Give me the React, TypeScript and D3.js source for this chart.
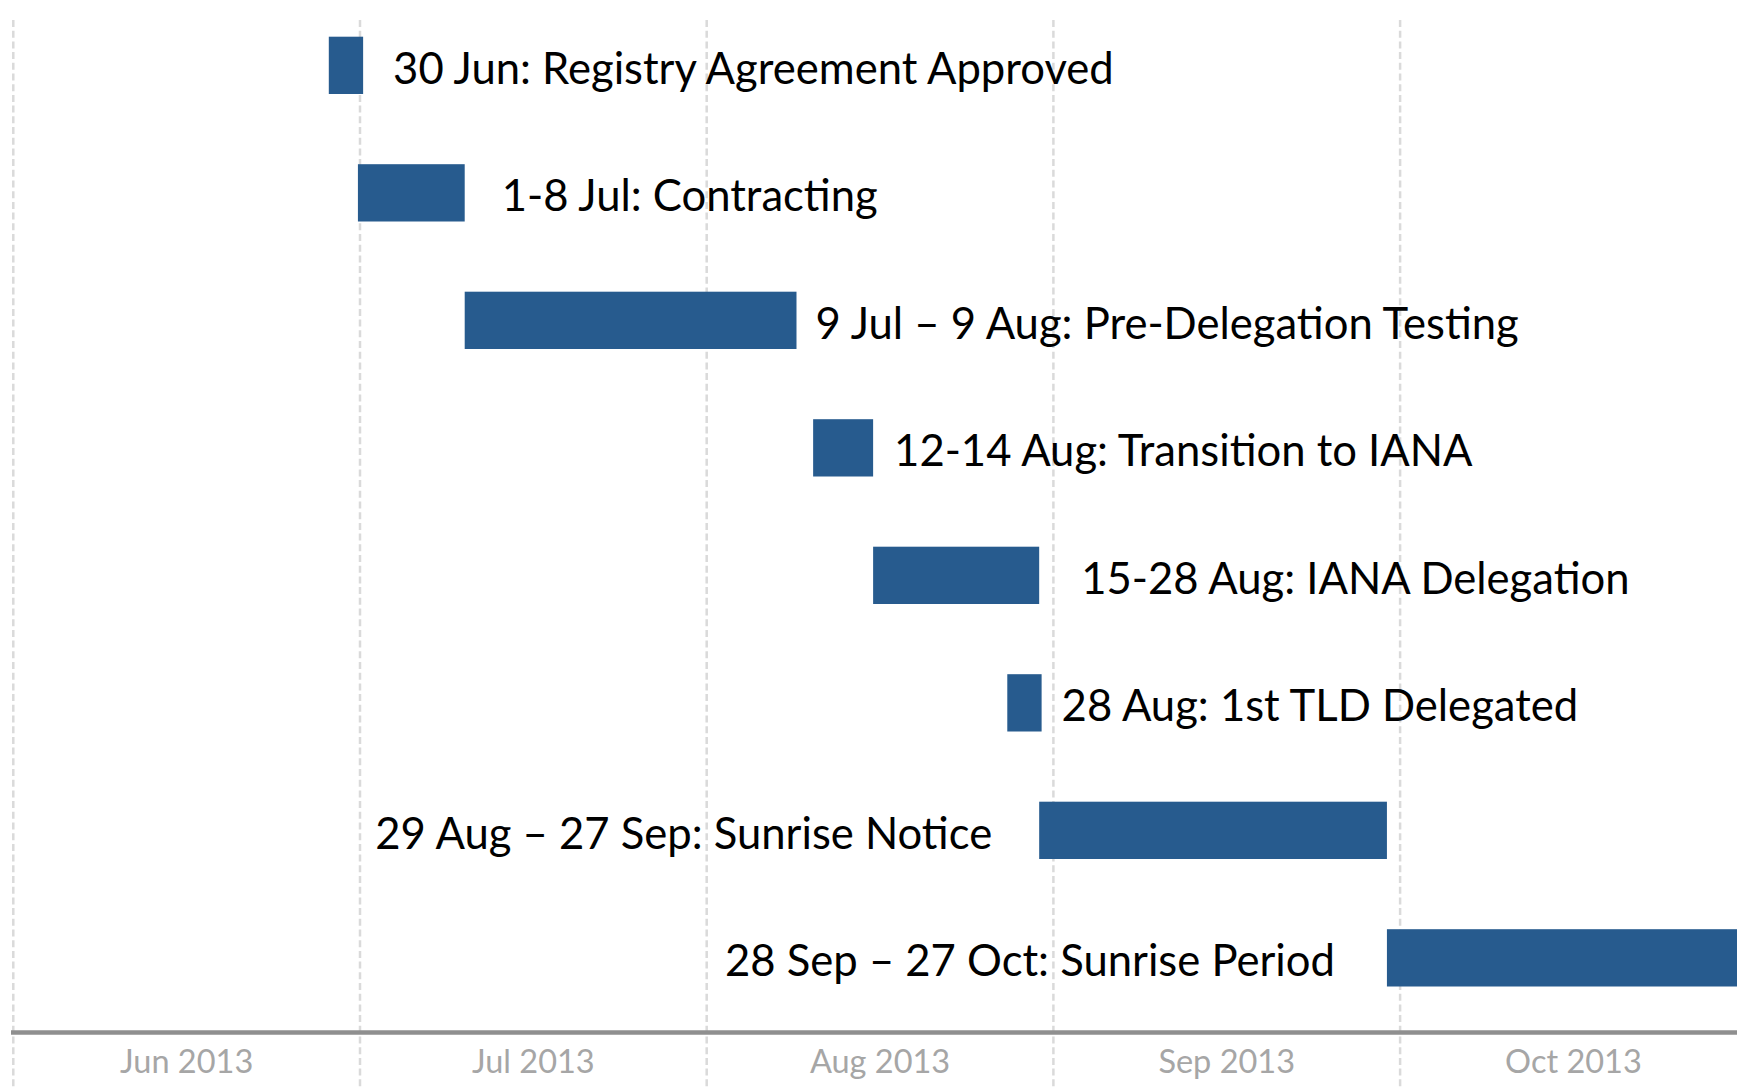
import React from "react";
import * as d3 from "d3";

// Data: positions in months since 1 Jun 2013
const taskLabels = [
  "30 Jun: Registry Agreement Approved",
  "1-8 Jul: Contracting",
  "9 Jul \u2013 9 Aug: Pre-Delegation Testing",
  "12-14 Aug: Transition to IANA",
  "15-28 Aug: IANA Delegation",
  "28 Aug: 1st TLD Delegated",
  "29 Aug \u2013 27 Sep: Sunrise Notice",
  "28 Sep \u2013 27 Oct: Sunrise Period",
];
const taskStarts = [0.910, 0.994, 1.302, 2.307, 2.480, 2.867, 2.959, 3.962];
const taskEnds = [1.009, 1.302, 2.259, 2.480, 2.959, 2.966, 3.962, 5.0];
const monthLabels = ["Jun 2013", "Jul 2013", "Aug 2013", "Sep 2013", "Oct 2013"];

// Layout (not data)
const labelSide = ["right", "right", "right", "right", "right", "right", "left", "left"];
const labelGap = [30, 37, 19, 21, 42, 20, 47, 52];

const W = 1737;
const H = 1087;
const BAR_COLOR = "#275b8e";
const FONT = "Lato, 'Noto Sans', sans-serif";

export default function App() {
  const x = d3.scaleLinear().domain([0, 5]).range([13.3, 13.3 + 5 * 346.7]);
  const y = d3
    .scalePoint<number>()
    .domain(d3.range(taskLabels.length))
    .range([65.35, 957.85]);
  const barH = 57.3;
  const axisY = 1032.5;
  const gridTicks = d3.range(0, 6);

  return (
    <div style={{ position: "absolute", left: 0, top: 0, width: W, height: H, overflow: "hidden", background: "#fff" }}>
      <svg width={W} height={H} style={{ display: "block" }}>
        <rect x={0} y={0} width={W} height={H} fill="#ffffff" />
        {gridTicks.map((t) => (
          <line
            key={"g" + t}
            x1={x(t)}
            x2={x(t)}
            y1={20}
            y2={H}
            stroke="#dadada"
            strokeWidth={2.5}
            strokeDasharray="7 3.7"
          />
        ))}
        <line x1={11} x2={W} y1={axisY} y2={axisY} stroke="#8f8f8f" strokeWidth={4.5} />
        {monthLabels.map((m, i) => (
          <text
            key={m}
            x={x(i + 0.5)}
            y={1073}
            textAnchor="middle"
            fontFamily={FONT}
            fontSize={32.5}
            fill="#a6a6a6"
          >
            {m}
          </text>
        ))}
        {taskLabels.map((label, i) => {
          const x0 = x(taskStarts[i]);
          const x1 = x(taskEnds[i]);
          const cy = y(i) as number;
          const right = labelSide[i] === "right";
          return (
            <g key={label}>
              <rect x={x0} y={cy - barH / 2} width={x1 - x0} height={barH} fill={BAR_COLOR} />
              <text
                x={right ? x1 + labelGap[i] : x0 - labelGap[i]}
                y={cy + 18.6}
                textAnchor={right ? "start" : "end"}
                fontFamily={FONT}
                fontSize={43.6}
                fill="#000"
              >
                {label}
              </text>
            </g>
          );
        })}
      </svg>
    </div>
  );
}
